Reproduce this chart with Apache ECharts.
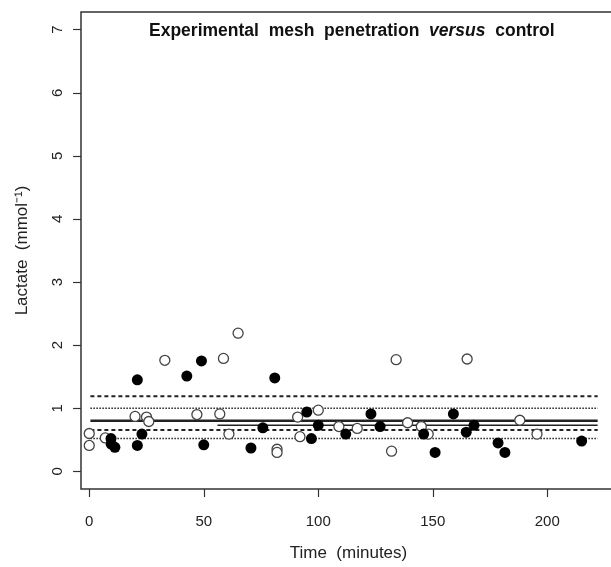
<!DOCTYPE html>
<html>
<head>
<meta charset="utf-8">
<script src="https://cdn.jsdelivr.net/npm/echarts@6/dist/echarts.min.js"></script>
<style>
  html, body { margin: 0; padding: 0; background: #fff; }
  #chart { width: 611px; height: 567px; }
</style>
</head>
<body>
<div id="chart"></div>
<script>
  // open circles : time, lactate
  const openX = [0, 0, 7, 20, 25, 26, 33, 47, 57, 58.6, 61, 65, 82, 82, 91, 92, 100, 109, 117, 132, 134, 139, 145, 148, 165, 188, 195.5];
  const openY = [0.60, 0.41, 0.53, 0.87, 0.86, 0.79, 1.76, 0.90, 0.91, 1.79, 0.59, 2.19, 0.35, 0.30, 0.86, 0.55, 0.97, 0.71, 0.68, 0.32, 1.77, 0.77, 0.71, 0.59, 1.78, 0.81, 0.59];

  // filled circles
  const fillX = [9.5, 9.6, 11.2, 21, 21, 23, 42.6, 49, 50, 70.6, 75.8, 81, 95, 97, 100, 112, 123, 127, 146, 151, 159, 164.6, 168, 178.5, 181.5, 215];
  const fillY = [0.52, 0.43, 0.38, 1.45, 0.41, 0.59, 1.51, 1.75, 0.42, 0.37, 0.69, 1.48, 0.94, 0.52, 0.73, 0.59, 0.91, 0.71, 0.59, 0.30, 0.91, 0.62, 0.73, 0.45, 0.30, 0.48];

  // horizontal reference lines
  const refLevels = [1.19, 1.00, 0.80, 0.73, 0.655, 0.52];
  const refStart = [0.5, 0.5, 0.5, 56, 0.5, 0.5];
  const refEnd = [222, 222, 222, 222, 222, 222];
  const refType = [[4, 3], [1.5, 1.5], 'solid', 'solid', [4, 3], [1.5, 1.5]];
  const refWidth = [2, 1.5, 2.5, 1.5, 2, 1.5];

  const xTicks = [0, 50, 100, 150, 200];
  const yTicks = [0, 1, 2, 3, 4, 5, 6, 7];

  const font = '"Liberation Sans", Arial, sans-serif';
  const ink = '#222';

  const series = [];
  refLevels.forEach(function (lv, i) {
    series.push({
      type: 'line',
      data: [[refStart[i], lv], [refEnd[i], lv]],
      symbol: 'none',
      silent: true,
      lineStyle: { color: '#222', width: refWidth[i], type: refType[i] },
      z: 1
    });
  });
  series.push({
    type: 'scatter',
    data: openX.map(function (x, i) { return [x, openY[i]]; }),
    symbol: 'circle',
    symbolSize: 10,
    itemStyle: { color: '#fff', borderColor: '#444', borderWidth: 1.3, opacity: 1 },
    z: 3
  });
  series.push({
    type: 'scatter',
    data: fillX.map(function (x, i) { return [x, fillY[i]]; }),
    symbol: 'circle',
    symbolSize: 11,
    itemStyle: { color: '#000', opacity: 1 },
    z: 4
  });

  const option = {
    animation: false,
    backgroundColor: '#fff',
    title: {
      left: 144,
      top: 17,
      text: '{b|Experimental  mesh  penetration  }{i|versus}{b|  control}',
      textStyle: {
        rich: {
          b: { fontFamily: font, fontWeight: 'bold', fontSize: 17.5, color: '#111' },
          i: { fontFamily: font, fontWeight: 'bold', fontStyle: 'italic', fontSize: 17.5, color: '#111' }
        }
      }
    },
    grid: {
      left: 81, top: 12, width: 535, height: 477,
      outerBoundsMode: 'none',
      show: true, borderColor: '#333', borderWidth: 1.5, backgroundColor: '#fff'
    },
    xAxis: {
      type: 'value',
      min: -3.6, max: 230,
      name: 'Time  (minutes)',
      nameLocation: 'middle',
      nameGap: 56,
      nameTextStyle: { fontFamily: font, fontSize: 17, color: ink },
      axisLine: { show: false, onZero: false },
      splitLine: { show: false },
      axisTick: { show: true, inside: false, customValues: xTicks, length: 8, lineStyle: { color: '#333', width: 1.2 } },
      axisLabel: { customValues: xTicks, margin: 25, fontFamily: font, fontSize: 15, color: ink }
    },
    yAxis: {
      type: 'value',
      min: -0.28, max: 7.28,
      name: 'Lactate  (mmol⁻¹)',
      nameLocation: 'middle',
      nameGap: 50,
      nameTextStyle: { fontFamily: font, fontSize: 17, color: ink },
      axisLine: { show: false, onZero: false },
      splitLine: { show: false },
      axisTick: { show: true, inside: false, customValues: yTicks, length: 8, lineStyle: { color: '#333', width: 1.2 } },
      axisLabel: { customValues: yTicks, rotate: 90, margin: 16, fontFamily: font, fontSize: 15, color: ink }
    },
    series: series
  };

  const chart = echarts.init(document.getElementById('chart'));
  chart.setOption(option);
</script>
</body>
</html>
